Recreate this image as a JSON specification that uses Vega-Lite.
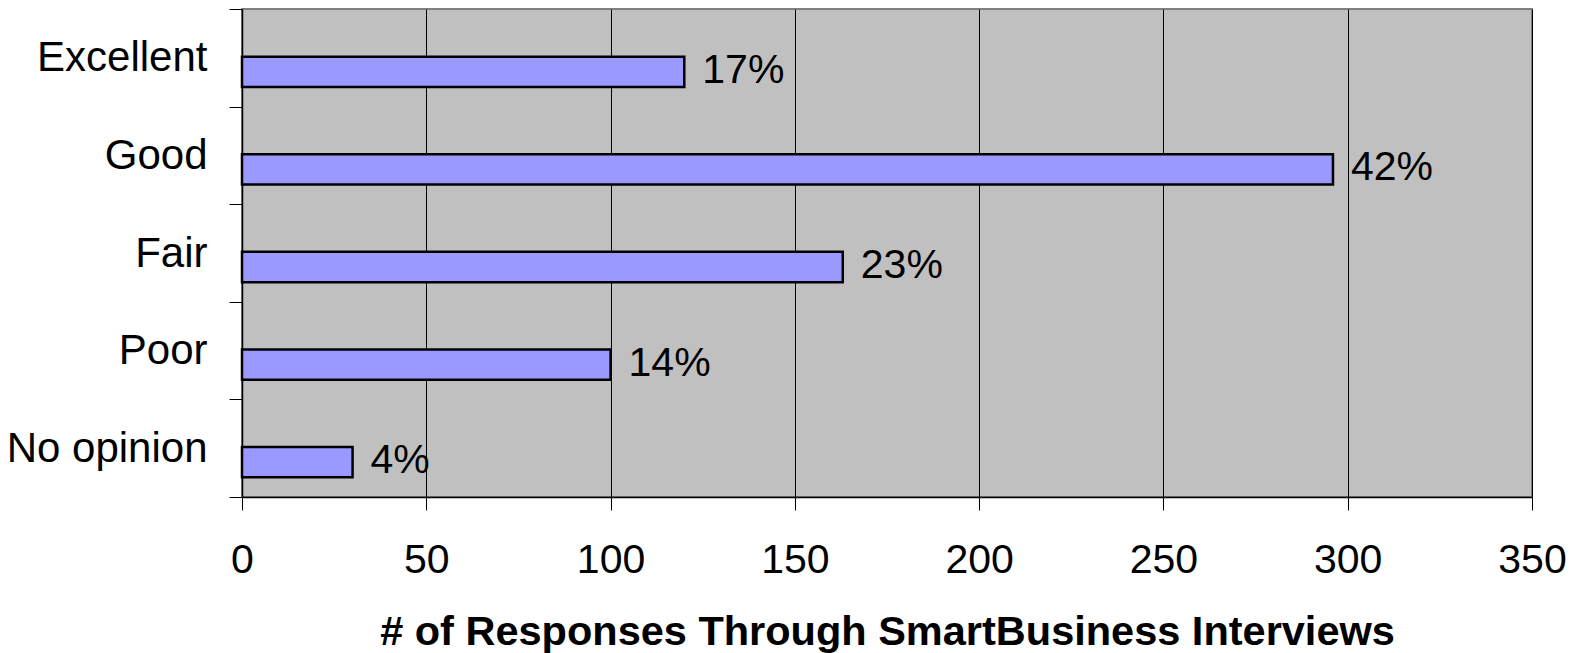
{
  "$schema": "https://vega.github.io/schema/vega-lite/v6.json",
  "width": 1290,
  "height": 488,
  "autosize": {"type": "none"},
  "padding": {"left": 242, "top": 9, "right": 55, "bottom": 156},
  "background": "white",
  "config": {
    "font": "Liberation Sans",
    "view": {"fill": "#C0C0C0", "stroke": "#808080", "strokeWidth": 2}
  },
  "data": {
    "values": [
      {"rating": "Excellent", "responses": 120, "pct": "17%"},
      {"rating": "Good", "responses": 296, "pct": "42%"},
      {"rating": "Fair", "responses": 163, "pct": "23%"},
      {"rating": "Poor", "responses": 100, "pct": "14%"},
      {"rating": "No opinion", "responses": 30, "pct": "4%"}
    ]
  },
  "encoding": {
    "y": {
      "field": "rating",
      "type": "nominal",
      "sort": null,
      "scale": {"paddingInner": 0, "paddingOuter": 0},
      "axis": {
        "title": null,
        "tickBand": "extent",
        "tickSize": 13,
        "tickColor": "black",
        "domainColor": "black",
        "domainWidth": 1.5,
        "labelFontSize": 42,
        "labelColor": "black",
        "labelPadding": 22,
        "labelLimit": 0,
        "labelFont": "Liberation Sans"
      }
    },
    "x": {
      "field": "responses",
      "type": "quantitative",
      "scale": {"domain": [0, 350], "nice": false},
      "axis": {
        "values": [0, 50, 100, 150, 200, 250, 300, 350],
        "title": "# of Responses Through SmartBusiness Interviews",
        "titleFontSize": 41.5,
        "titleFontWeight": "bold",
        "titleColor": "black",
        "titlePadding": 31,
        "titleFont": "Liberation Sans",
        "grid": true,
        "gridColor": "black",
        "gridWidth": 1,
        "gridOpacity": 1,
        "tickSize": 13,
        "tickColor": "black",
        "domainColor": "black",
        "domainWidth": 1.5,
        "labelFontSize": 41,
        "labelColor": "black",
        "labelPadding": 30,
        "labelFont": "Liberation Sans",
        "labelFlush": false
      }
    }
  },
  "layer": [
    {
      "mark": {"type": "bar", "height": {"band": 0.31}, "fill": "#9999FF", "stroke": "black", "strokeWidth": 2.5, "yOffset": 14}
    },
    {
      "mark": {"type": "text", "align": "left", "baseline": "middle", "dx": 18, "yOffset": 13, "fontSize": 41, "font": "Liberation Sans", "color": "black"},
      "encoding": {"text": {"field": "pct"}}
    }
  ]
}
